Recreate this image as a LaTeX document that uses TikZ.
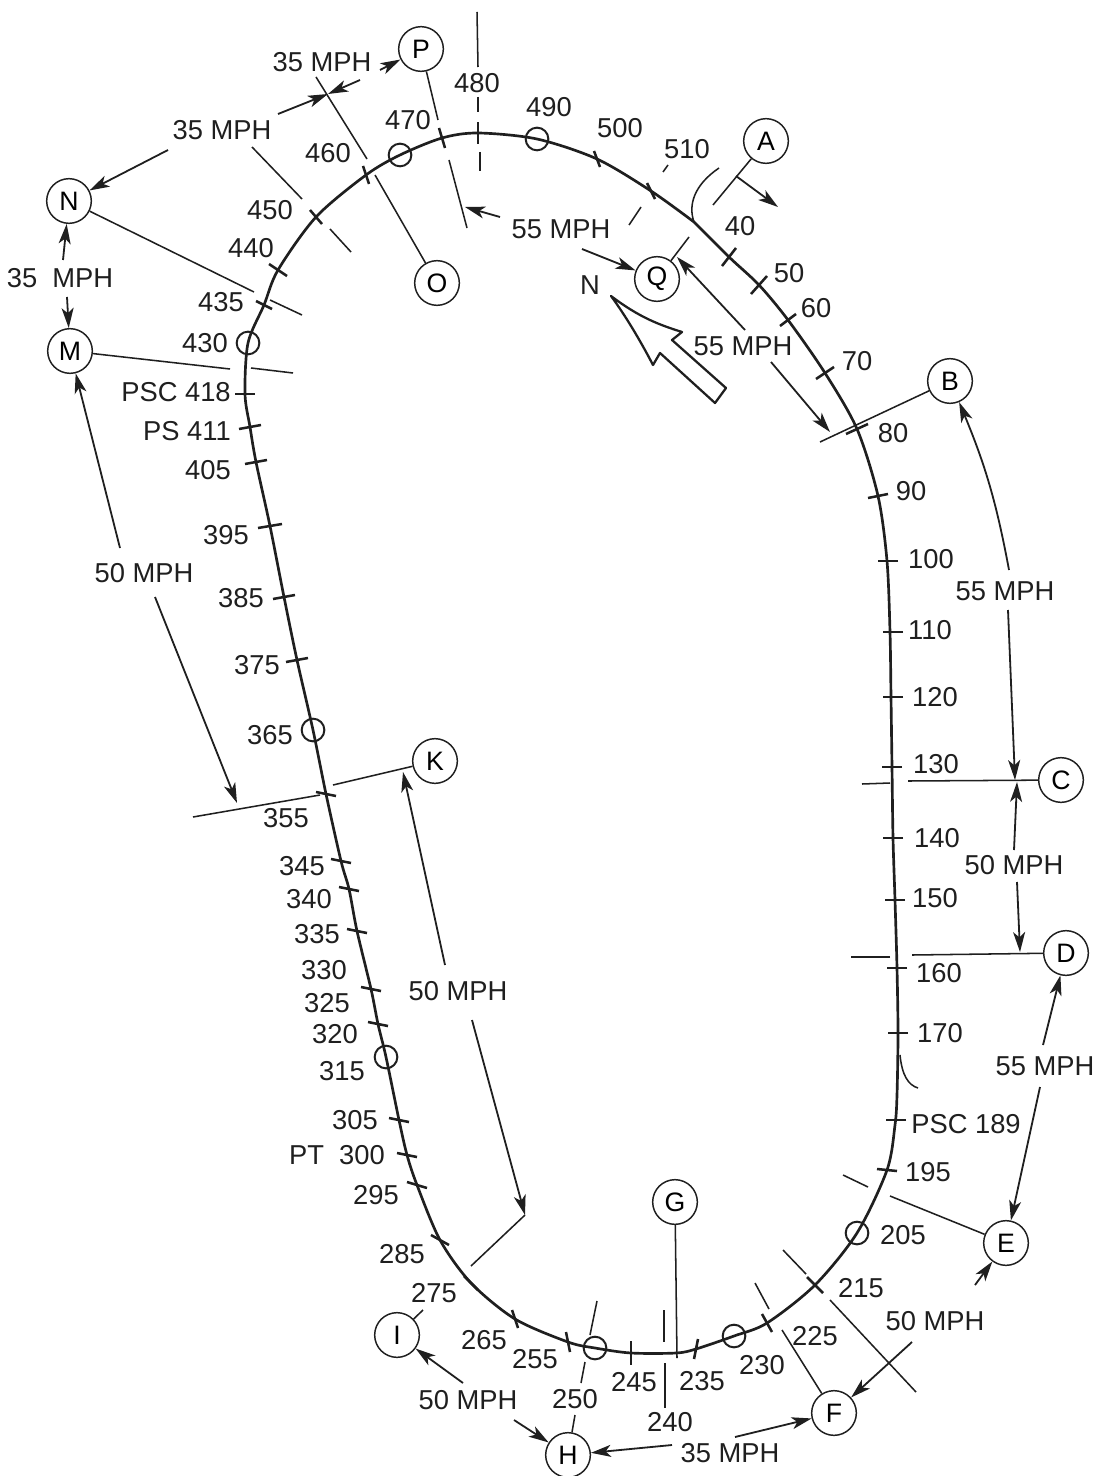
\documentclass[tikz,border=0pt]{standalone}
\usepackage{fontspec}
\setmainfont{Liberation Sans}
\usetikzlibrary{arrows.meta}
\tikzset{
  ln/.style={line width=1.15pt,black!88},
  arr/.style={line width=1.35pt,black!88,-{Stealth[length=15pt,width=9pt,inset=4pt]}},
  rarr/.style={line width=1.35pt,black!88,{Stealth[length=15pt,width=9pt,inset=4pt]}-},
  trk/.style={line width=2pt,black!88,line join=round},
  tk/.style={line width=1.9pt,black!88},
  stn/.style={circle,draw=black!88,line width=1.1pt,minimum size=33.5pt,inner sep=0pt,fill=white,font=\fontsize{20}{20}\selectfont},
  sig/.style={circle,draw=black!88,line width=1.5pt,minimum size=17pt,inner sep=0pt},
  lb/.style={font=\fontsize{20.5}{20.5}\selectfont,black!88,inner sep=0pt}
}
\newcommand{\tk}[4]{\draw[tk] ({#1-#3},{#2-#4}) -- ({#1+#3},{#2+#4});}
\begin{document}
\begin{tikzpicture}[x=0.75pt,y=-0.75pt]
\useasboundingbox[fill=white] (0,0) rectangle (1102,1476);
% track
\draw[trk] plot[smooth,tension=0.5] coordinates {
(694,222)(729,257)(759,285)(788,320)(825,373)(857,429)(878,496)(887,561)(890,632)(891,697)(892,767)(893,838)(895,900)(897,968)(898,1033)(897,1095)(895,1125)(887,1170)(857,1233)(815,1285)(767,1323)(734,1336)(696,1349)(676,1353)(631,1353)(595,1348)(568,1342)(515,1319)(471,1283)(440,1240)(417,1185)(407,1155)(399,1120)(386,1057)(378,1024)(371,989)(357,931)(349,889)(341,861)(326,794)(313,730)(297,660)(284,597)(270,526)(256,462)(250,427)(245,394)(248,343)(264,305)(278,270)(316,217)(366,175)(400,155)(442,138)(478,133)(537,139)(597,159)(651,191)(694,222)};
\draw[ln] (900,1055) .. controls (902,1075) and (908,1085) .. (918,1088);
\draw[ln] (719,168) .. controls (694,185) and (688,205) .. (694,222);
% ticks
\tk{729}{257}{-7}{9} \tk{759}{285}{-8}{9} \tk{788}{320}{-8}{6} \tk{825}{373}{-9}{6}
\tk{857}{429}{-11}{5} \tk{878}{496}{-10}{2} \tk{888}{561}{-10}{0} \tk{893}{632}{-10}{0}
\tk{893}{697}{-10}{0} \tk{892}{767}{-10}{0} \tk{893}{838}{-10}{0} \tk{895}{900}{-10}{0}
\tk{897}{968}{-10}{0} \tk{898}{1033}{-10}{0} \tk{896}{1120}{-10}{0} \tk{887}{1170}{-10}{-1}
\tk{815}{1285}{8}{8} \tk{767}{1323}{5}{9} \tk{696}{1349}{-2}{10} \tk{631}{1353}{0}{12}
\tk{568}{1342}{2}{10} \tk{515}{1319}{3}{9} \tk{471}{1283}{7}{7} \tk{440}{1240}{9}{5}
\tk{417}{1185}{10}{3} \tk{407}{1155}{10}{2} \tk{399}{1120}{10}{2} \tk{378}{1024}{10}{2}
\tk{371}{989}{10}{2} \tk{357}{931}{10}{2} \tk{349}{889}{10}{2} \tk{341}{861}{10}{2}
\tk{326}{794}{10}{2} \tk{297}{660}{11}{-2} \tk{284}{597}{11}{-2} \tk{270}{526}{12}{-2}
\tk{256}{462}{11}{-2} \tk{250}{427}{11}{-2} \tk{245}{394}{10}{0} \tk{264}{305}{-8}{-4}
\tk{278}{270}{-9}{-6} \tk{316}{217}{-6}{-7} \tk{366}{175}{-3}{-9} \tk{442}{138}{-3}{-10}
\tk{478}{133}{0}{-11} \tk{597}{159}{-3}{-8} \tk{651}{191}{-4}{-8}
% signals on track
\node[sig] (s205) at (857,1233) {}; \node[sig] (s230) at (734,1336) {};
\node[sig] (s250) at (595,1348) {}; \node[sig] (s315) at (386,1057) {};
\node[sig] (s365) at (313,730) {}; \node[sig] (s430) at (248,343) {};
\node[sig] (s470) at (400,155) {}; \node[sig] (s490) at (537,139) {};
% stations
\node[stn] (A) at (766,141) {A}; \node[stn] (B) at (950,381) {B};
\node[stn] (C) at (1061,780) {C}; \node[stn] (D) at (1066,953) {D};
\node[stn] (E) at (1006,1243) {E}; \node[stn] (F) at (834,1413) {F};
\node[stn] (G) at (675,1202) {G}; \node[stn] (H) at (568,1455) {H};
\node[stn] (I) at (397,1335) {I}; \node[stn] (K) at (435,761) {K};
\node[stn] (M) at (70,351) {M}; \node[stn] (N) at (69,201) {N};
\node[stn] (O) at (437,283) {O}; \node[stn] (P) at (421,49) {P};
\node[stn] (Q) at (657,279) {Q};
% lines from stations
\draw[ln] (A) -- (713,205) coordinate (a1);
\coordinate (a2) at (736,176); \draw[arr] (a2) -- (778,207) coordinate (a3);
\draw[ln] (Q) -- (689,237) coordinate (q1);
\draw[ln] (B) -- (820,442) coordinate (b1);
\draw[ln] (C) -- (908,781) coordinate (c1); \draw[ln] (890,783) coordinate (c2) -- (862,784) coordinate (c3);
\draw[ln] (D) -- (912,955) coordinate (d1); \draw[ln] (890,957) coordinate (d2) -- (851,957) coordinate (d3);
\draw[ln] (E) -- (890,1196) coordinate (e1); \draw[ln] (868,1187) coordinate (e2) -- (843,1175) coordinate (e3);
\draw[ln] (F) -- (782,1330) coordinate (f1); \draw[ln] (769,1309) coordinate (f2) -- (755,1283) coordinate (f3);
\draw[ln] (830,1300) coordinate (f4) -- (916,1392) coordinate (f5); \draw[ln] (806,1274) coordinate (f6) -- (783,1250) coordinate (f7);
\draw[ln] (G) -- (677,1358) coordinate (g1);
\draw[ln] (664,1310) coordinate (g2) -- (664,1342) coordinate (g3);
\draw[ln] (665,1363) coordinate (g4) -- (665,1408) coordinate (g5);
\draw[ln] (H) -- (575,1415) coordinate (h1);
\draw[ln] (597,1301) coordinate (h2) -- (590,1335) coordinate (h3);
\draw[ln] (585,1362) coordinate (h4) -- (581,1383) coordinate (h5);
\draw[ln] (I) -- (423,1310) coordinate (i1);
\draw[ln] (K) -- (333,785) coordinate (k1); \draw[ln] (320,795) coordinate (k2) -- (193,817) coordinate (k3);
\draw[ln] (525,1215) coordinate (k4) -- (471,1266) coordinate (k5);
\draw[ln] (M) -- (230,369) coordinate (m1); \draw[ln] (251,368) coordinate (m2) -- (293,373) coordinate (m3);
\draw[ln] (N) -- (254,292) coordinate (n1); \draw[ln] (270,300) coordinate (n2) -- (302,315) coordinate (n3);
\draw[ln] (O) -- (375,175) coordinate (o1);
\draw[ln] (367,159) coordinate (o2) -- (316,77) coordinate (o3);
\draw[ln] (P) -- (438,120) coordinate (p1);
\draw[ln] (449,160) coordinate (p2) -- (467,228) coordinate (p3);
\draw[ln] (477,12) coordinate (v1) -- (478,67) coordinate (v2);
\draw[ln] (478,97) coordinate (v3) -- (478,112) coordinate (v4);
\draw[ln] (480,152) coordinate (v5) -- (480,171) coordinate (v6);
\draw[ln] (668,165) coordinate (w1) -- (663,172) coordinate (w2);
\draw[ln] (641,207) coordinate (w3) -- (629,225) coordinate (w4);
\draw[ln] (302,199) coordinate (x1) -- (252,147) coordinate (x2);
\draw[ln] (330,229) coordinate (x3) -- (351,252) coordinate (x4);
% speed arrows
\draw[arr] (745,330) coordinate (r1) -- (677,257) coordinate (r2);
\draw[arr] (771,362) coordinate (r3) -- (830,432) coordinate (r4);
\draw[rarr] (B) to[bend left=6] (1009,570) coordinate (r6);
\draw[arr] (1008,610) coordinate (r7) -- (1015,780) coordinate (r8);
\draw[arr] (1014,850) coordinate (r9) -- (1017,782) coordinate (r10);
\draw[arr] (1017,882) coordinate (r11) -- (1020,952) coordinate (r12);
\draw[arr] (1043,1045) coordinate (r13) -- (D);
\draw[arr] (1040,1087) coordinate (r14) -- (E);
\draw[arr] (975,1285) coordinate (r15) -- (E);
\draw[arr] (912,1342) coordinate (r16) -- (F);
\draw[arr] (735,1437) coordinate (r17) -- (F);
\draw[arr] (672,1445) coordinate (r18) -- (H);
\draw[arr] (514,1420) coordinate (r19) -- (H);
\draw[arr] (463,1383) coordinate (r20) -- (I);
\draw[arr] (445,965) coordinate (r21) -- (403,772) coordinate (r22);
\draw[arr] (472,1020) coordinate (r23) -- (k4);
\draw[arr] (120,548) coordinate (r24) -- (M);
\draw[arr] (155,597) coordinate (r25) -- (237,803) coordinate (r26);
\draw[arr] (63,260) coordinate (r27) -- (N);
\draw[arr] (67,297) coordinate (r28) -- (M);
\draw[arr] (278,114) coordinate (r29) -- (328,94) coordinate (r30);
\draw[arr] (360,80) coordinate (r31) -- (r30);
\draw[arr] (168,150) coordinate (r32) -- (N);
\draw[arr] (380,70) coordinate (r33) -- (P);
\draw[arr] (500,217) coordinate (r34) -- (465,207) coordinate (r35);
\draw[arr] (582,249) coordinate (r36) -- (Q);
% north arrow
\draw[line width=1.7pt,black!88,line join=round] (611,296) .. controls (640,318) and (660,325) .. (682,332) -- (672,340) -- (726,388) -- (715,403) -- (660,353) -- (653,365) .. controls (640,340) and (625,315) .. (611,296) -- cycle;
% speed labels
\node[lb] (t1) at (322,62) {35 MPH};
\node[lb] (t2) at (222,130) {35 MPH};
\node[lb] (t3) at (60,278) {35 \ MPH};
\node[lb] (t4) at (144,573) {50 MPH};
\node[lb] (t5) at (458,991) {50 MPH};
\node[lb] (t6) at (561,229) {55 MPH};
\node[lb] (t7) at (743,346) {55 MPH};
\node[lb] (t8) at (1005,591) {55 MPH};
\node[lb] (t9) at (1014,865) {50 MPH};
\node[lb] (t10) at (1045,1066) {55 MPH};
\node[lb] (t11) at (935,1321) {50 MPH};
\node[lb] (t12) at (730,1453) {35 MPH};
\node[lb] (t13) at (468,1400) {50 MPH};
\node[lb] (tN) at (590,285) {N};
% milepost labels
\foreach \n/\px/\py/\s in {a40/740/226/40,a50/789/273/50,a60/816/308/60,a70/857/361/70,a80/893/433/80,a90/911/491/90,a100/931/559/100,a110/930/630/110,a120/935/697/120,a130/936/764/130,a140/937/838/140,a150/935/898/150,a160/939/973/160,a170/940/1033/170,a195/928/1172/195,a205/903/1235/205,a215/861/1288/215,a225/815/1336/225,a230/762/1365/230,a235/702/1381/235,a240/670/1422/240,a245/634/1382/245,a250/575/1399/250,a255/535/1359/255,a265/484/1340/265,a275/434/1293/275,a285/402/1254/285,a295/376/1195/295,a305/355/1120/305,a315/342/1071/315,a320/335/1034/320,a325/327/1003/325,a330/324/970/330,a335/317/934/335,a340/309/899/340,a345/302/866/345,a355/286/818/355,a365/270/735/365,a375/257/665/375,a385/241/598/385,a395/226/535/395,a405/208/470/405,a430/205/343/430,a435/221/302/435,a440/251/248/440,a450/270/210/450,a460/328/153/460,a470/408/120/470,a480/477/83/480,a490/549/107/490,a500/620/128/500,a510/687/149/510}
  {\node[lb] (\n) at (\px,\py) {\s};}
\node[lb] (p189) at (966,1124) {PSC 189};
\node[lb] (p300) at (337,1155) {PT\ \ 300};
\node[lb] (p411) at (187,431) {PS 411};
\node[lb] (p418) at (176,392) {PSC 418};
\end{tikzpicture}
\end{document}
